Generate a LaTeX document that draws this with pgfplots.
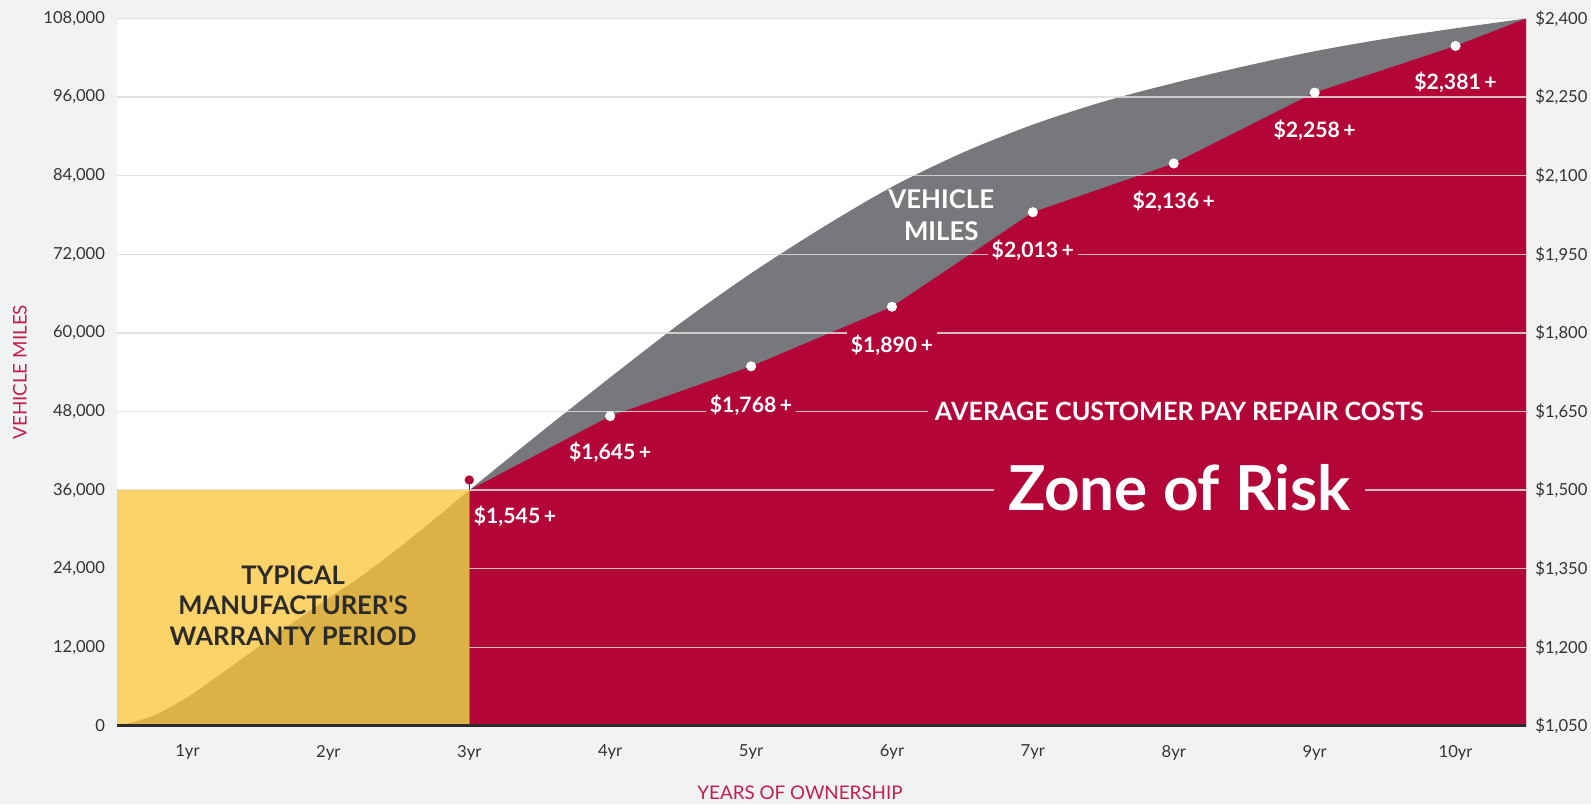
\documentclass[border=0pt]{standalone}
\usepackage{fontspec}
\setmainfont{Lato}[Ligatures=TeXOff]
\usepackage{pgfplots}
\usepackage{pgfplotstable}
\pgfplotsset{compat=1.18}
\definecolor{bgc}{HTML}{F1F2F4}
\definecolor{riskred}{HTML}{B30538}
\definecolor{milesgray}{HTML}{77787C}
\definecolor{warrlight}{HTML}{FCCF59}
\definecolor{warrdark}{HTML}{D9AF43}
\definecolor{labred}{HTML}{C41E4A}
\definecolor{tickc}{HTML}{333333}
\definecolor{gridc}{HTML}{DCDCDC}
\definecolor{basec}{HTML}{2B2B2B}
\definecolor{warrtext}{HTML}{2B2B2B}

% vehicle miles curve (years, miles), 3yr onwards
\pgfplotstableread{
x y
3.0 36000
3.5 44700
4.0 53200
4.5 61500
5.0 69100
5.5 76000
6.0 82300
6.5 87500
7.0 91800
7.5 95300
8.0 98150
8.5 100700
9.0 103000
9.5 104900
10.0 106500
10.5 108000
}\milestable

% vehicle miles curve inside warranty period
\pgfplotstableread{
x y
0.5 0
0.75 1500
1.0 4400
1.25 8150
1.5 12000
1.75 15800
2.0 19500
2.25 23100
2.5 27200
2.75 31500
3.0 36000
}\warrtable

% average customer pay repair costs (upper edge of red area)
\pgfplotstableread{
x y
3 0
3 36000
4 47300
5 54900
6 64000
7 78430
8 85870
9 96690
10 103810
10.5 108000
10.5 0
}\risktable

\pgfplotstableread{
x y
4 47300
5 54900
6 64000
7 78430
8 85870
9 96690
10 103810
}\dottable

\begin{document}
\begin{tikzpicture}[
  lab/.style={text=white, font=\bfseries\fontsize{10.6}{12}\selectfont, inner sep=0pt},
  labm/.style={lab, fill=riskred, inner xsep=2pt},
]
\fill[bgc] (-58.5pt,-39pt) rectangle (737pt,363pt);
\begin{axis}[
  name=ax,
  at={(0,0)}, anchor=south west,
  scale only axis, width=704.5pt, height=353.75pt,
  xmin=0.5, xmax=10.5, ymin=0, ymax=108000,
  axis background/.style={fill=white},
  axis line style={draw=none},
  axis x line*=bottom, axis y line*=left,
  major tick length=0pt,
  xtick={1,2,3,4,5,6,7,8,9,10},
  xticklabels={1yr,2yr,3yr,4yr,5yr,6yr,7yr,8yr,9yr,10yr},
  ytick={0,12000,24000,36000,48000,60000,72000,84000,96000,108000},
  yticklabels={0,{12,000},{24,000},{36,000},{48,000},{60,000},{72,000},{84,000},{96,000},{108,000}},
  ticklabel style={font=\fontsize{8.3}{10}\selectfont, text=tickc},
  xticklabel style={yshift=-6pt},
  yticklabel style={xshift=-2.5pt},
]
% vehicle miles (gray) area
\addplot[fill=milesgray, draw=none, smooth] table {\milestable} \closedcycle;
% zone of risk (red) area
\addplot[fill=riskred, draw=none] table {\risktable} -- cycle;
% grid lines
\addplot[gridc, draw opacity=0.85, line width=0.7pt] coordinates {(0.5,12000) (10.5,12000)};
\addplot[gridc, draw opacity=0.85, line width=0.7pt] coordinates {(0.5,24000) (10.5,24000)};
\addplot[gridc, draw opacity=0.85, line width=0.7pt] coordinates {(0.5,36000) (10.5,36000)};
\addplot[gridc, draw opacity=0.85, line width=0.7pt] coordinates {(0.5,48000) (10.5,48000)};
\addplot[gridc, draw opacity=0.85, line width=0.7pt] coordinates {(0.5,60000) (10.5,60000)};
\addplot[gridc, draw opacity=0.85, line width=0.7pt] coordinates {(0.5,72000) (10.5,72000)};
\addplot[gridc, draw opacity=0.85, line width=0.7pt] coordinates {(0.5,84000) (10.5,84000)};
\addplot[gridc, draw opacity=0.85, line width=0.7pt] coordinates {(0.5,96000) (10.5,96000)};
\addplot[gridc, draw opacity=0.85, line width=0.7pt] coordinates {(0.5,108000) (10.5,108000)};
% warranty period
\addplot[fill=warrlight, fill opacity=0.9, draw=none] coordinates {(0.5,0) (0.5,36000) (3,36000) (3,0)} -- cycle;
\addplot[fill=warrdark, fill opacity=0.9, draw=none, smooth] table {\warrtable} \closedcycle;
% base line
\addplot[basec, line width=2.5pt] coordinates {(0.5,0) (10.5,0)};
% red pin at 3yr
\addplot[riskred, line width=0.6pt] coordinates {(3,36000) (3,37550)};
\addplot[only marks, mark=*, mark size=2.1pt, mark options={fill=riskred, draw=riskred}] coordinates {(3,37550)};
% white data dots
\addplot[only marks, mark=*, mark size=2.3pt, mark options={fill=white, draw=white}] table {\dottable};
% labels
\node[lab, anchor=west] at (axis cs:3.03,31980) {\$1,545\,+};
\node[lab] at (axis cs:4,41750) {\$1,645\,+};
\node[labm, text height=3pt, text depth=2pt, anchor=base] at (axis cs:5,47890) {\$1,768\,+};
\node[labm, text height=10.5pt, text depth=0pt, anchor=base] at (axis cs:6,57090) {\$1,890\,+};
\node[labm, text height=2.5pt, text depth=2pt, anchor=base] at (axis cs:7,71570) {\$2,013\,+};
\node[lab] at (axis cs:8,80160) {\$2,136\,+};
\node[lab] at (axis cs:9,91000) {\$2,258\,+};
\node[lab] at (axis cs:10,98280) {\$2,381\,+};
\node[text=white, font=\bfseries\fontsize{12.6}{14}\selectfont, fill=riskred, inner xsep=3.5pt, inner ysep=1pt] at (axis cs:8.04,48100) {AVERAGE CUSTOMER PAY REPAIR COSTS};
\node[text=white, font=\bfseries\fontsize{31}{36}\selectfont, fill=riskred, inner xsep=7pt, inner ysep=1pt] at (axis cs:8.04,36400) {Zone of Risk};
\node[text=white, font=\bfseries\fontsize{12.9}{15.7}\selectfont, align=center, inner sep=0pt] at (axis cs:6.35,78000) {VEHICLE\\MILES};
\node[text=warrtext, font=\bfseries\fontsize{12.8}{15.2}\selectfont, align=center, inner sep=0pt] at (axis cs:1.75,18360) {TYPICAL\\MANUFACTURER'S\\WARRANTY PERIOD};
\end{axis}
\begin{axis}[
  at={(0,0)}, anchor=south west,
  scale only axis, width=704.5pt, height=353.75pt,
  xmin=0.5, xmax=10.5, ymin=1050, ymax=2400,
  axis x line=none, axis y line*=right,
  axis line style={draw=none},
  major tick length=0pt,
  ytick={1050,1200,1350,1500,1650,1800,1950,2100,2250,2400},
  yticklabels={{\$1,050},{\$1,200},{\$1,350},{\$1,500},{\$1,650},{\$1,800},{\$1,950},{\$2,100},{\$2,250},{\$2,400}},
  yticklabel style={font=\fontsize{8.3}{10}\selectfont, text=tickc, xshift=1.2pt},
]
\addplot[draw=none] coordinates {(1,1050)};
\end{axis}
\node[text=labred, font=\fontsize{9.4}{11}\selectfont] at ([xshift=341.5pt, yshift=-33.5pt]ax.south west) {YEARS OF OWNERSHIP};
\node[text=labred, font=\fontsize{9.4}{11}\selectfont, rotate=90] at ([xshift=-48.5pt]ax.west) {VEHICLE MILES};
\pgfresetboundingbox
\path[use as bounding box] (-58.5pt,-39pt) rectangle (737pt,363pt);
\end{tikzpicture}
\end{document}
